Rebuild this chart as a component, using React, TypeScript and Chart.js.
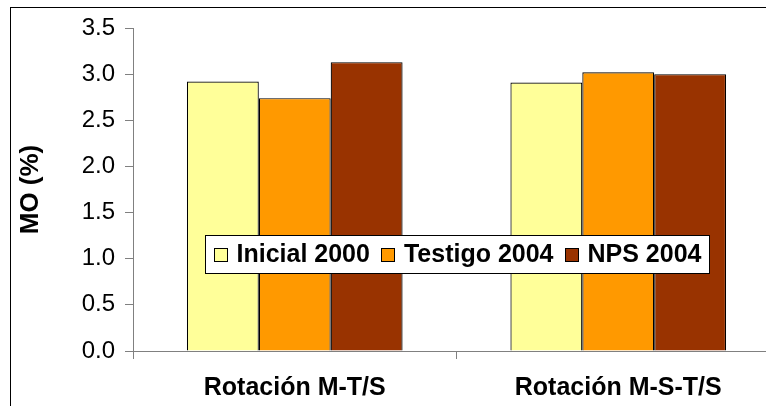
import React, { useEffect, useRef } from "react";
import { Chart, registerables } from "chart.js";

Chart.register(...registerables);

// ---- data ----
const categories = ["Rotación M-T/S", "Rotación M-S-T/S"];
const seriesNames = ["Inicial 2000", "Testigo 2004", "NPS 2004"];
const inicial2000 = [2.92, 2.91];
const testigo2004 = [2.74, 3.02];
const nps2004 = [3.13, 3.0];
const seriesColors = ["#FFFF99", "#FF9900", "#993300"];
const yMin = 0;
const yMax = 3.5;
const yStep = 0.5;
const yTitle = "MO (%)";

const FONT = '"Liberation Sans", Arial, Helvetica, sans-serif';
const CANVAS_W = 830;
const CANVAS_H = 440;

const frameBorder = {
  id: "frameBorder",
  beforeDraw(chart: any) {
    const ctx = chart.ctx;
    ctx.save();
    ctx.fillStyle = "#ffffff";
    ctx.fillRect(0, 0, chart.width, chart.height);
    ctx.strokeStyle = "#000000";
    ctx.lineWidth = 1;
    ctx.strokeRect(10.5, 7.5, chart.width, chart.height);
    ctx.restore();
  },
};

const floatingLegend = {
  id: "floatingLegend",
  afterDraw(chart: any) {
    const ctx = chart.ctx;
    ctx.save();
    ctx.font = `bold 25px ${FONT}`;
    const items = chart.data.datasets.map((ds: any) => ({
      label: ds.label,
      color: ds.backgroundColor,
      w: ctx.measureText(ds.label).width,
    }));
    const pad = 8;
    const mk = 13;
    const gap = 10;
    const itemGap = 11;
    const contentW =
      items.reduce((s: number, it: any) => s + mk + gap + it.w, 0) +
      itemGap * (items.length - 1);
    const boxW = Math.round(contentW + 2 * pad);
    const boxH = 38;
    const cx = (chart.chartArea.left + chart.chartArea.right) / 2;
    const cy = 254;
    const left = Math.round(cx - boxW / 2) + 0.5;
    const top = Math.round(cy - boxH / 2) + 0.5;
    ctx.fillStyle = "#ffffff";
    ctx.fillRect(left, top, boxW, boxH);
    ctx.strokeStyle = "#000000";
    ctx.lineWidth = 1;
    ctx.strokeRect(left, top, boxW, boxH);
    let x = left + pad;
    items.forEach((it: any) => {
      const my = Math.round(cy - mk / 2) + 0.5;
      ctx.fillStyle = it.color;
      ctx.fillRect(Math.round(x) + 0.5, my, mk, mk);
      ctx.strokeStyle = "#000000";
      ctx.lineWidth = 1;
      ctx.strokeRect(Math.round(x) + 0.5, my, mk, mk);
      x += mk + gap;
      ctx.fillStyle = "#000000";
      ctx.textBaseline = "middle";
      ctx.textAlign = "left";
      ctx.fillText(it.label, x, cy + 1);
      x += it.w + itemGap;
    });
    ctx.restore();
  },
};

export default function App() {
  const canvasRef = useRef<HTMLCanvasElement | null>(null);

  useEffect(() => {
    const canvas = canvasRef.current;
    if (!canvas) return;
    const seriesValues = [inicial2000, testigo2004, nps2004];
    const chart = new Chart(canvas, {
      type: "bar",
      data: {
        labels: categories,
        datasets: seriesNames.map((name, i) => ({
          label: name,
          data: seriesValues[i],
          backgroundColor: seriesColors[i],
          borderColor: "#000000",
          borderWidth: 1.2,
          categoryPercentage: 2 / 3,
          barPercentage: 1,
        })),
      },
      options: {
        animation: false,
        responsive: false,
        devicePixelRatio: 1,
        layout: {
          padding: { left: 0, top: 28, right: CANVAS_W - 780, bottom: 0 },
        },
        plugins: {
          legend: { display: false },
          tooltip: { enabled: false },
        },
        scales: {
          x: {
            offset: true,
            afterFit(scale: any) {
              scale.height = CANVAS_H - 351;
            },
            grid: {
              offset: true,
              drawOnChartArea: false,
              drawTicks: true,
              tickLength: 8,
              color: "#808080",
              lineWidth: 1,
            },
            border: { display: true, color: "#808080", width: 1 },
            ticks: {
              color: "#000000",
              padding: 14,
              font: { family: FONT, size: 25, weight: "bold" },
            },
          },
          y: {
            min: yMin,
            max: yMax,
            afterFit(scale: any) {
              scale.width = 133;
            },
            ticks: {
              stepSize: yStep,
              color: "#000000",
              padding: 10,
              font: { family: FONT, size: 24 },
              callback: (v: any) => Number(v).toFixed(1),
            },
            grid: {
              drawOnChartArea: false,
              drawTicks: true,
              tickLength: 8,
              color: "#808080",
              lineWidth: 1,
            },
            border: { display: true, color: "#808080", width: 1 },
            title: {
              display: true,
              text: yTitle,
              color: "#000000",
              padding: { top: 15, bottom: 0 },
              font: { family: FONT, size: 26, weight: "bold" },
            },
          },
        },
      },
      plugins: [frameBorder, floatingLegend],
    });
    return () => chart.destroy();
  }, []);

  return (
    <div
      style={{
        position: "fixed",
        left: 0,
        top: 0,
        width: 766,
        height: 406,
        overflow: "hidden",
        background: "#ffffff",
      }}
    >
      <canvas
        ref={canvasRef}
        width={CANVAS_W}
        height={CANVAS_H}
        style={{
          position: "absolute",
          left: 0,
          top: 0,
          width: CANVAS_W,
          height: CANVAS_H,
        }}
      />
    </div>
  );
}
